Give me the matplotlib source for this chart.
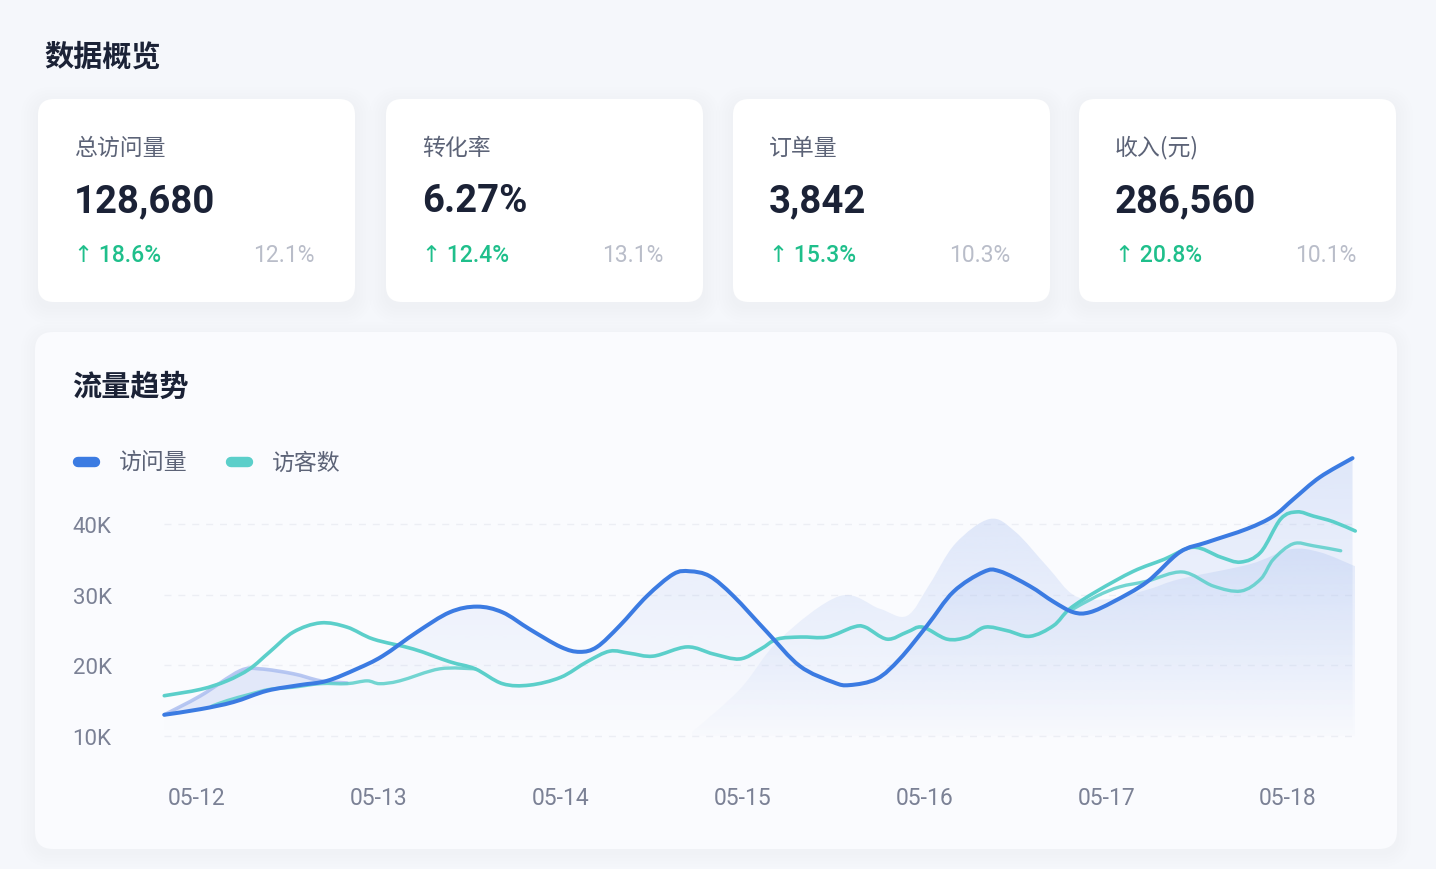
import numpy as np
import matplotlib
matplotlib.use("Agg")
import matplotlib.pyplot as plt
from matplotlib.path import Path
from matplotlib.patches import FancyBboxPatch, PathPatch

plt.rcParams["font.family"] = ["Noto Sans CJK SC", "DejaVu Sans"]

# ---- data -------------------------------------------------------------
PAGE_TITLE = "数据概览"
CHART_TITLE = "流量趋势"

kpi_labels = ["总访问量", "转化率", "订单量", "收入(元)"]
kpi_values = ["128,680", "6.27%", "3,842", "286,560"]
kpi_growth = ["18.6%", "12.4%", "15.3%", "20.8%"]
kpi_other = ["12.1%", "13.1%", "10.3%", "10.1%"]

day_labels = ["05-12", "05-13", "05-14", "05-15", "05-16", "05-17", "05-18"]
y_ticks = [10, 20, 30, 40]            # thousands

# 访问量 (day offset from 05-12, value in K)
visit_t = [-0.18, 0.02, 0.20, 0.385, 0.565, 0.715, 0.88, 1.02, 1.21, 1.39,
           1.54, 1.68, 1.83, 2.00, 2.105, 2.20, 2.325, 2.475, 2.62, 2.71,
           2.82, 2.95, 3.135, 3.315, 3.50, 3.59, 3.74, 3.865, 4.015, 4.16,
           4.325, 4.415, 4.58, 4.71, 4.82, 4.91, 5.04, 5.225, 5.405, 5.555,
           5.775, 5.92, 6.03, 6.175, 6.355]
visit_v = [13.0, 13.8, 14.8, 16.4, 17.2, 17.8, 19.5, 21.3, 24.7, 27.5,
           28.3, 27.5, 25.1, 22.6, 21.9, 22.6, 25.6, 29.8, 32.9, 33.3,
           32.6, 29.8, 24.7, 19.9, 17.6, 17.2, 18.1, 20.9, 25.6, 30.4,
           33.2, 33.3, 31.2, 29.0, 27.5, 27.5, 29.0, 31.8, 36.0, 37.4,
           39.3, 41.1, 43.5, 46.6, 49.3]

# 访客数
visitor_t = [-0.18, 0.02, 0.165, 0.29, 0.40, 0.53, 0.68, 0.825, 0.97, 1.19,
             1.39, 1.53, 1.68, 1.83, 2.00, 2.145, 2.27, 2.38, 2.51, 2.695,
             2.84, 2.985, 3.10, 3.19, 3.32, 3.465, 3.61, 3.675, 3.795, 3.905,
             3.99, 4.125, 4.235, 4.335, 4.455, 4.58, 4.71, 4.80, 4.95, 5.15,
             5.32, 5.48, 5.63, 5.74, 5.85, 5.96, 6.05, 6.14, 6.25, 6.37]
visitor_v = [15.7, 16.6, 17.8, 19.5, 21.9, 24.7, 26.0, 25.4, 23.7, 22.3,
             20.5, 19.5, 17.4, 17.2, 18.3, 20.5, 22.0, 21.7, 21.3, 22.6,
             21.6, 20.9, 22.3, 23.7, 24.0, 24.0, 25.4, 25.4, 23.7, 24.7,
             25.4, 23.7, 24.0, 25.4, 24.9, 24.1, 25.6, 28.0, 30.5, 33.3,
             35.0, 36.7, 35.3, 34.6, 36.0, 40.7, 41.7, 41.1, 40.3, 39.0]

# faint echo traces seen behind the main lines
echo_blue_t = [-0.18, 0.02, 0.235, 0.345, 0.53, 0.68, 0.825]
echo_blue_v = [13.0, 15.7, 19.2, 19.5, 18.8, 17.8, 17.5]
echo_teal_l_t = [0.08, 0.165, 0.29, 0.40, 0.53, 0.68, 0.825, 0.935, 1.005, 1.115, 1.335, 1.53]
echo_teal_l_v = [14.2, 15.0, 15.9, 16.6, 16.9, 17.4, 17.4, 17.8, 17.4, 17.8, 19.5, 19.5]
echo_teal_r_t = [4.80, 4.95, 5.075, 5.225, 5.42, 5.59, 5.74, 5.85, 5.92, 6.03, 6.14, 6.29]
echo_teal_r_v = [27.7, 29.8, 31.1, 31.9, 33.2, 31.2, 30.5, 32.2, 35.0, 37.2, 36.9, 36.2]

# soft background hills
hill_t = [2.72, 2.985, 3.205, 3.535, 3.755, 3.905, 4.03, 4.17, 4.36, 4.50, 4.675,
          4.83, 5.02, 5.24, 5.405, 5.79, 6.01, 6.175, 6.37]
hill_v = [10.5, 16.6, 23.7, 29.8, 28.0, 27.0, 31.5, 37.2, 40.7, 38.9, 34.0,
          29.8, 29.4, 30.8, 32.2, 34.3, 36.4, 36.0, 34.0]

# ---- style -------------------------------------------------------------
W, H = 1436, 870
BG = "#f5f7fb"
INK = "#1b2236"
LABEL = "#5c6377"
TICK = "#7b8195"
GREEN = "#1fbf8b"
MUTED = "#b9bdc9"
BLUE = "#3b7be2"
TEAL = "#5bcfca"
NUM = ["Roboto", "DejaVu Sans"]


def smooth_path(x, y):
    pts = np.column_stack([x, y]).astype(float)
    n = len(pts)
    verts, codes = [pts[0]], [Path.MOVETO]
    for i in range(n - 1):
        p0, p1 = pts[max(i - 1, 0)], pts[i]
        p2, p3 = pts[i + 1], pts[min(i + 2, n - 1)]
        verts += [p1 + (p2 - p0) / 6, p2 - (p3 - p1) / 6, p2]
        codes += [Path.CURVE4] * 3
    return Path(verts, codes)


def area_path(x, y, base):
    p = smooth_path(x, y)
    verts = list(p.vertices) + [(x[-1], base), (x[0], base), (x[0], y[0])]
    codes = list(p.codes) + [Path.LINETO, Path.LINETO, Path.CLOSEPOLY]
    return Path(verts, codes)


def band_path(x1, y1, x2, y2):
    # closed region between two curves (second one walked backwards)
    a = smooth_path(x1, y1)
    b = smooth_path(x2[::-1], y2[::-1])
    verts = list(a.vertices) + list(b.vertices) + [a.vertices[0]]
    codes = list(a.codes) + [Path.LINETO] + list(b.codes[1:]) + [Path.CLOSEPOLY]
    return Path(verts, codes)


def gradient_fill(ax, x, y, color, a_top, a_bot, base, top, z):
    patch = PathPatch(area_path(x, y, base), transform=ax.transData,
                      facecolor="none", edgecolor="none")
    rgb = matplotlib.colors.to_rgb(color)
    g = np.linspace(a_bot, a_top, 256).reshape(-1, 1)
    img = np.zeros((256, 1, 4))
    img[..., :3] = rgb
    img[..., 3] = g
    im = ax.imshow(img, extent=[min(x), max(x), base, top], origin="lower",
                   aspect="auto", zorder=z, interpolation="bilinear")
    im.set_clip_path(patch)


def rbox(ax, x, y, w, h, r, fc, z=1, ec="none", alpha=1.0):
    ax.add_patch(FancyBboxPatch((x, y), w, h,
                                boxstyle=f"round,pad=0,rounding_size={r}",
                                fc=fc, ec=ec, alpha=alpha, zorder=z, lw=0))


fig = plt.figure(figsize=(W / 100, H / 100), dpi=100)
fig.patch.set_facecolor(BG)

bg = fig.add_axes([0, 0, 1, 1])
bg.set_xlim(0, W)
bg.set_ylim(H, 0)
bg.axis("off")

bg.text(44, 57, PAGE_TITLE, fontsize=21, fontweight="bold", color=INK,
        va="center", ha="left")

# KPI cards
card_x = [38, 386, 733, 1079]
for cx, lab, val, gr, ot in zip(card_x, kpi_labels, kpi_values, kpi_growth, kpi_other):
    for k in range(6):
        pad = 2 + k * 3
        rbox(bg, cx - pad, 100 - pad + 5, 317 + 2 * pad, 203 + 2 * pad,
             16 + pad, "#d9dfec", z=1, alpha=0.035)
    rbox(bg, cx, 100, 317, 203, 16, "#ffffff", z=2)
    bg.text(cx + 36, 148, lab, fontsize=16.5, color=LABEL, va="center", zorder=3)
    bg.text(cx + 36, 202, val, fontsize=27.5, fontweight="bold", color=INK,
            family=NUM, va="center", zorder=3)
    bg.text(cx + 36, 255, "↑ " + gr, fontsize=16.5, color=GREEN,
            family=NUM, va="center", zorder=3, fontweight="medium")
    bg.text(cx + 277, 255, ot, fontsize=16.5, color=MUTED, family=NUM,
            va="center", ha="right", zorder=3)

# chart panel
for k in range(5):
    pad = 2 + k * 3
    rbox(bg, 35 - pad, 333 - pad + 4, 1362 + 2 * pad, 517 + 2 * pad,
         18 + pad, "#e2e7f1", z=1, alpha=0.03)
rbox(bg, 35, 333, 1362, 517, 18, "#fafbfe", z=2)
bg.text(72, 387, CHART_TITLE, fontsize=21, fontweight="bold", color=INK,
        va="center", zorder=3)

# legend
for lx, col, name in [(78, BLUE, "访问量"), (231, TEAL, "访客数")]:
    bg.plot([lx, lx + 17], [463, 463], color=col, lw=7.5,
            solid_capstyle="round", zorder=3)
    bg.text(lx + 41, 463, name, fontsize=16.5, color=LABEL, va="center", zorder=3)

# ---- chart ---------------------------------------------------------------
xlo, xhi = -0.18, 6.37
ylo, yhi = 8, 51
px_day = 181.83
left = 197 + xlo * px_day
right = 197 + xhi * px_day
bottom = 737 + (10 - ylo) * 7.07
top = 737 - (yhi - 10) * 7.07
ax = fig.add_axes([left / W, 1 - bottom / H, (right - left) / W, (bottom - top) / H])
ax.set_facecolor("none")
ax.set_zorder(5)
for s in ax.spines.values():
    s.set_visible(False)

ax.set_yticks(y_ticks)
ax.set_yticklabels([f"{v}K" for v in y_ticks], fontsize=16, color=TICK, family=NUM)
for t in ax.get_yticklabels():
    t.set_horizontalalignment("left")
ax.tick_params(axis="y", length=0, pad=66)
ax.set_xticks(range(len(day_labels)))
ax.set_xticklabels(day_labels, fontsize=16.5, color=TICK, family=NUM)
ax.tick_params(axis="x", length=0, pad=26)
ax.grid(axis="y", color="#eceef4", lw=1, ls=(0, (5, 5)))
ax.set_axisbelow(True)

gradient_fill(ax, hill_t, hill_v, "#c9d7f6", 0.55, 0.04, 10, 41, 1)
gradient_fill(ax, visit_t, visit_v, "#7c9ee9", 0.22, 0.0, 10, 50, 2)

# tinted band between the early echo and the main blue line
n_band = sum(t <= echo_blue_t[-1] for t in visit_t)
ax.add_patch(PathPatch(band_path(echo_blue_t, echo_blue_v,
                                 visit_t[:n_band], visit_v[:n_band]),
                       fc="#b7c7f2", ec="none", alpha=0.35, zorder=2))

ax.add_patch(PathPatch(smooth_path(echo_blue_t, echo_blue_v), fc="none",
                       ec="#a8bbef", lw=2.6, alpha=0.8, zorder=3, clip_on=False,
                       capstyle="round"))
ax.add_patch(PathPatch(smooth_path(echo_teal_l_t, echo_teal_l_v), fc="none",
                       ec=TEAL, lw=2.4, alpha=0.85, zorder=3, clip_on=False,
                       capstyle="round"))
ax.add_patch(PathPatch(smooth_path(echo_teal_r_t, echo_teal_r_v), fc="none",
                       ec=TEAL, lw=2.4, alpha=0.85, zorder=3, clip_on=False,
                       capstyle="round"))
ax.add_patch(PathPatch(smooth_path(visitor_t, visitor_v), fc="none",
                       ec=TEAL, lw=2.6, zorder=4, clip_on=False,
                       capstyle="round", joinstyle="round"))
ax.add_patch(PathPatch(smooth_path(visit_t, visit_v), fc="none",
                       ec=BLUE, lw=2.9, zorder=5, clip_on=False,
                       capstyle="round", joinstyle="round"))

ax.set_xlim(xlo, xhi)
ax.set_ylim(ylo, yhi)

fig.savefig("out.png", dpi=100, facecolor=fig.get_facecolor())
